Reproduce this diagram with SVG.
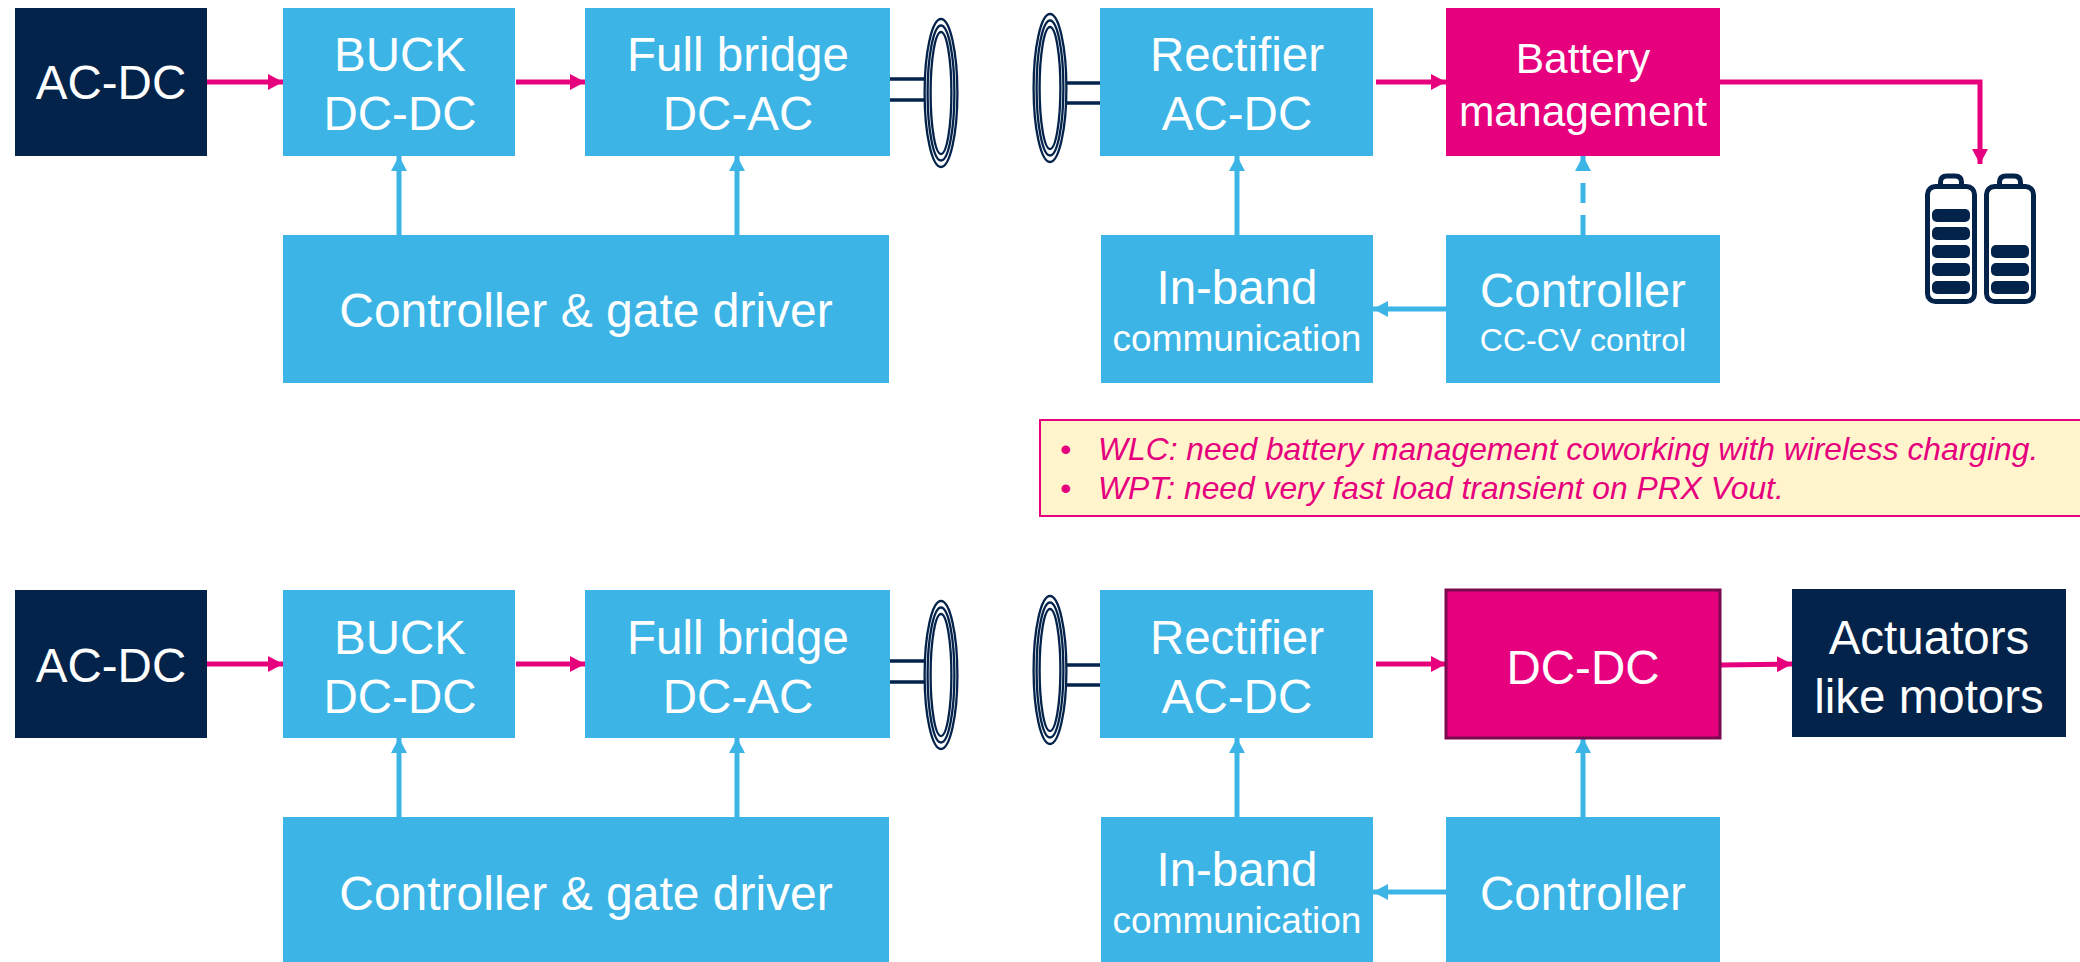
<svg xmlns="http://www.w3.org/2000/svg" width="2080" height="962" viewBox="0 0 2080 962">
<style>
text{font-family:"Liberation Sans",Arial,sans-serif;fill:#fff;text-anchor:middle}
.b{fill:#3cb4e6}.d{fill:#03234b}.m{fill:#e6007e}
.t{font-size:47.500px}.s{font-size:32px}.c{font-size:37px}.n{font-size:42.500px}.g{font-size:48px}
.pk{stroke:#e6007e;stroke-width:5;fill:none}
.bl{stroke:#3cb4e6;stroke-width:5;fill:none}
.coil{stroke:#03234b;stroke-width:2.300;fill:none}
.w{stroke:#03234b;stroke-width:3.500;fill:none}
.note{font-size:31.800px;font-style:italic;fill:#e6007e;text-anchor:start}
</style>
<defs>
<marker id="ap" markerUnits="userSpaceOnUse" markerWidth="16" markerHeight="16" refX="15" refY="8" orient="auto"><path d="M0 0L15 8L0 16Z" fill="#e6007e"/></marker>
<marker id="ab" markerUnits="userSpaceOnUse" markerWidth="16" markerHeight="16" refX="15" refY="8" orient="auto"><path d="M0 0L15 8L0 16Z" fill="#3cb4e6"/></marker>
<g id="coilshape"><ellipse rx="16.400" ry="74" class="coil"/><ellipse rx="13.400" ry="67.500" class="coil"/><ellipse rx="10.400" ry="61" class="coil"/></g>
</defs>

<g id="connectors">
<path class="pk" marker-end="url(#ap)" d="M207 82H283"/>
<path class="pk" marker-end="url(#ap)" d="M516 82H585"/>
<path class="pk" marker-end="url(#ap)" d="M1376 82H1446"/>
<path class="pk" marker-end="url(#ap)" d="M1720 82H1980V164"/>
<path class="bl" marker-end="url(#ab)" d="M399 235V156"/>
<path class="bl" marker-end="url(#ab)" d="M737 235V156"/>
<path class="bl" marker-end="url(#ab)" d="M1237 235V156"/>
<path class="bl" stroke-dasharray="20 12" marker-end="url(#ab)" d="M1583 235V156"/>
<path class="bl" marker-end="url(#ab)" d="M1446 309H1373"/>
<path class="pk" marker-end="url(#ap)" d="M207 664H283"/>
<path class="pk" marker-end="url(#ap)" d="M516 664H585"/>
<path class="pk" marker-end="url(#ap)" d="M1376 664H1446"/>
<path class="pk" marker-end="url(#ap)" d="M1720 665L1792 664"/>
<path class="bl" marker-end="url(#ab)" d="M399 817V738"/>
<path class="bl" marker-end="url(#ab)" d="M737 817V738"/>
<path class="bl" marker-end="url(#ab)" d="M1237 817V738"/>
<path class="bl" marker-end="url(#ab)" d="M1583 817V738"/>
<path class="bl" marker-end="url(#ab)" d="M1446 892H1373"/>
<path class="w" d="M890 79H925M890 100H925M1066 83H1101M1066 103H1101"/>
<path class="w" d="M890 661H925M890 682H925M1066 665H1101M1066 685H1101"/>
</g>

<g id="coil-tx-1"><use href="#coilshape" x="941" y="93"/></g>
<g id="coil-rx-1"><use href="#coilshape" x="1050" y="88"/></g>
<g id="coil-tx-2"><use href="#coilshape" x="941" y="675"/></g>
<g id="coil-rx-2"><use href="#coilshape" x="1050" y="670"/></g>

<g id="acdc-1"><rect class="d" x="15" y="8" width="192" height="148"/><text class="t" x="111" y="99">AC-DC</text></g>
<g id="buck-1"><rect class="b" x="283" y="8" width="232" height="148"/><text class="t" x="400" y="71">BUCK</text><text class="t" x="400" y="130">DC-DC</text></g>
<g id="bridge-1"><rect class="b" x="585" y="8" width="305" height="148"/><text class="t" x="738" y="71">Full bridge</text><text class="t" x="738" y="130">DC-AC</text></g>
<g id="rect-1"><rect class="b" x="1100" y="8" width="273" height="148"/><text class="t" x="1237" y="71">Rectifier</text><text class="t" x="1237" y="130">AC-DC</text></g>
<g id="batt-mgmt"><rect class="m" x="1446" y="8" width="274" height="148"/><text class="n" x="1583" y="73">Battery</text><text class="n" x="1583" y="126">management</text></g>
<g id="ctrl-gate-1"><rect class="b" x="283" y="235" width="606" height="148"/><text class="g" x="586" y="327">Controller &amp; gate driver</text></g>
<g id="inband-1"><rect class="b" x="1101" y="235" width="272" height="148"/><text class="t" x="1237" y="304">In-band</text><text class="c" x="1237" y="351">communication</text></g>
<g id="controller-1"><rect class="b" x="1446" y="235" width="274" height="148"/><text class="t" x="1583" y="307">Controller</text><text class="s" x="1583" y="351">CC-CV control</text></g>

<g id="battery"><g class="w" style="stroke-width:5">
<rect x="1927.500" y="186.500" width="47" height="115" rx="8"/><rect x="1986.500" y="186.500" width="47" height="115" rx="8"/>
<path d="M1940.500 185V182Q1940.500 176 1947 176H1955Q1961.500 176 1961.500 182V185M1999.500 185V182Q1999.500 176 2006 176H2014Q2020.500 176 2020.500 182V185"/></g>
<g class="d"><rect x="1932" y="209" width="38" height="13" rx="5"/><rect x="1932" y="227" width="38" height="13" rx="5"/><rect x="1932" y="245" width="38" height="13" rx="5"/><rect x="1932" y="263" width="38" height="13" rx="5"/><rect x="1932" y="281" width="38" height="13" rx="5"/><rect x="1991" y="245" width="38" height="13" rx="5"/><rect x="1991" y="263" width="38" height="13" rx="5"/><rect x="1991" y="281" width="38" height="13" rx="5"/></g></g>

<g id="note"><rect x="1040" y="420" width="1045" height="96" fill="#fff4cc" stroke="#e6007e" stroke-width="2"/>
<text class="note" x="1060" y="460">•</text><text class="note" x="1098" y="460">WLC: need battery management coworking with wireless charging.</text>
<text class="note" x="1060" y="499">•</text><text class="note" x="1098" y="499">WPT: need very fast load transient on PRX Vout.</text></g>

<g id="acdc-2"><rect class="d" x="15" y="590" width="192" height="148"/><text class="t" x="111" y="682">AC-DC</text></g>
<g id="buck-2"><rect class="b" x="283" y="590" width="232" height="148"/><text class="t" x="400" y="654">BUCK</text><text class="t" x="400" y="713">DC-DC</text></g>
<g id="bridge-2"><rect class="b" x="585" y="590" width="305" height="148"/><text class="t" x="738" y="654">Full bridge</text><text class="t" x="738" y="713">DC-AC</text></g>
<g id="rect-2"><rect class="b" x="1100" y="590" width="273" height="148"/><text class="t" x="1237" y="654">Rectifier</text><text class="t" x="1237" y="713">AC-DC</text></g>
<g id="dcdc"><rect class="m" x="1446" y="590" width="274" height="148" stroke="#7a0a4e" stroke-width="3"/><text class="t" x="1583" y="684">DC-DC</text></g>
<g id="actuators"><rect class="d" x="1792" y="589" width="274" height="148"/><text class="t" x="1929" y="654">Actuators</text><text class="t" x="1929" y="713">like motors</text></g>
<g id="ctrl-gate-2"><rect class="b" x="283" y="817" width="606" height="145"/><text class="g" x="586" y="910">Controller &amp; gate driver</text></g>
<g id="inband-2"><rect class="b" x="1101" y="817" width="272" height="145"/><text class="t" x="1237" y="886">In-band</text><text class="c" x="1237" y="933">communication</text></g>
<g id="controller-2"><rect class="b" x="1446" y="817" width="274" height="145"/><text class="t" x="1583" y="910">Controller</text></g>
</svg>
